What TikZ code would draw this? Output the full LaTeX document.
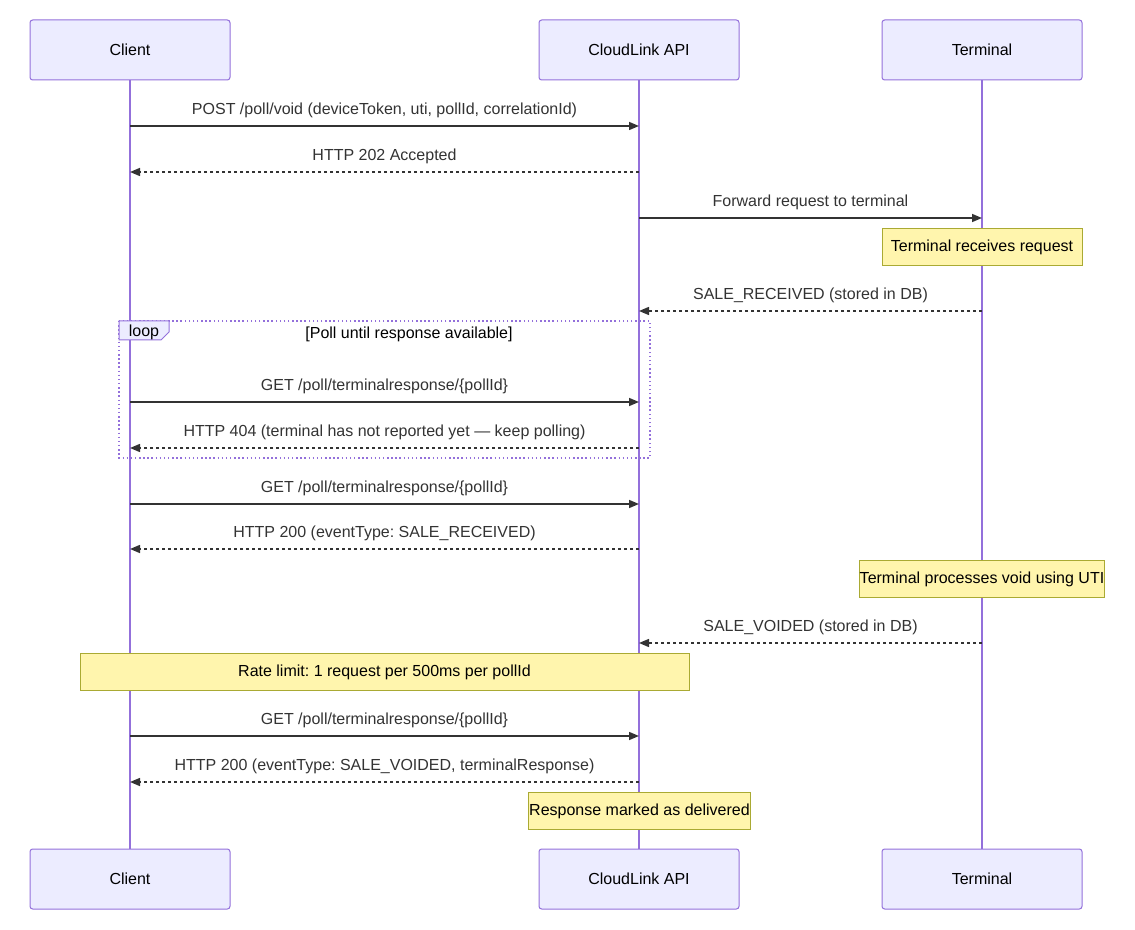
\documentclass[tikz,border=0pt]{standalone}
\usepackage{fontspec}
\setmainfont{Liberation Sans}
\usetikzlibrary{arrows.meta,calc,positioning}
\usepackage{xcolor}
\definecolor{actorfill}{HTML}{ECECFF}
\definecolor{actorline}{HTML}{9370DB}
\definecolor{notefill}{HTML}{FFF5AD}
\definecolor{noteline}{HTML}{AAAA33}
\definecolor{msgcol}{HTML}{333333}
\frenchspacing

\tikzset{
  actor/.style={draw=actorline, fill=actorfill, rounded corners=2pt, line width=0.75pt,
    minimum width=150pt, minimum height=45pt},
  lifeline/.style={draw=actorline, line width=1.5pt},
  note/.style={draw=noteline, fill=notefill, line width=0.75pt, minimum height=27.75pt, inner sep=0.5pt},
  msg/.style={draw=msgcol, line width=1.1pt, -{Triangle[length=7.5pt,width=6pt]}},
  reply/.style={msg, dash pattern=on 2.25pt off 2.25pt},
  msglabel/.style={midway, yshift=11.8pt, text=msgcol},
  loopbox/.style={draw=actorline, line width=1.1pt, dotted},
}

% message between two lifelines at height #3
\newcommand{\sendmsg}[5]{%
  \draw[#4] (#1 |- 0,#3) -- node[msglabel] {#5} (#2 |- 0,#3);}

\begin{document}
\begin{tikzpicture}[x=0.75pt, y=-0.75pt, every node/.style={font=\fontsize{12}{14}\selectfont}]
  \useasboundingbox (0,0) rectangle (1135,930);
  % actors
  \node[actor] (client) at (130,50) {Client};
  \node[actor] (api) at (639,50) {CloudLink API};
  \node[actor] (term) at (982,50) {Terminal};
  \node[actor] (clientB) at (130,879) {Client};
  \node[actor] (apiB) at (639,879) {CloudLink API};
  \node[actor] (termB) at (982,879) {Terminal};
  % lifelines
  \draw[lifeline] (client) -- (clientB);
  \draw[lifeline] (api) -- (apiB);
  \draw[lifeline] (term) -- (termB);

  % messages
  \sendmsg{client}{api}{126}{msg}{POST /poll/void (deviceToken, uti, pollId, correlationId)}
  \sendmsg{api}{client}{172}{reply}{HTTP 202 Accepted}
  \sendmsg{api}{term}{218}{msg}{Forward request to terminal}
  \node[note, minimum width=150pt] (recv) at (982,247) {Terminal receives request};
  \sendmsg{term}{api}{311}{reply}{SALE\_RECEIVED (stored in DB)}

  % loop
  \draw[loopbox] (119,321) rectangle (650,458);
  \filldraw[draw=actorline, fill=actorfill, line width=0.75pt]
    (119,321) -- (169,321) -- (169,332) -- (161,340) -- (119,340) -- cycle;
  \node (looptag) at (144,332) {loop};
  \node (looptitle) at (409,334) {[Poll until response available]};
  \sendmsg{client}{api}{402}{msg}{GET /poll/terminalresponse/\{pollId\}}
  \sendmsg{api}{client}{448}{reply}{HTTP 404 (terminal has not reported yet — keep polling)}

  \sendmsg{client}{api}{504}{msg}{GET /poll/terminalresponse/\{pollId\}}
  \sendmsg{api}{client}{549}{reply}{HTTP 200 (eventType: SALE\_RECEIVED)}
  \node[note, minimum width=183.75pt] (voiding) at (982,579) {Terminal processes void using UTI};
  \sendmsg{term}{api}{643}{reply}{SALE\_VOIDED (stored in DB)}
  \node[note, minimum width=456.75pt] (ratelimit) at (384.5,672) {Rate limit: 1 request per 500ms per pollId};
  \sendmsg{client}{api}{736}{msg}{GET /poll/terminalresponse/\{pollId\}}
  \sendmsg{api}{client}{782}{reply}{HTTP 200 (eventType: SALE\_VOIDED, terminalResponse)}
  \node[note, minimum width=162.75pt] (delivered) at (639.5,811) {Response marked as delivered};
\end{tikzpicture}
\end{document}
